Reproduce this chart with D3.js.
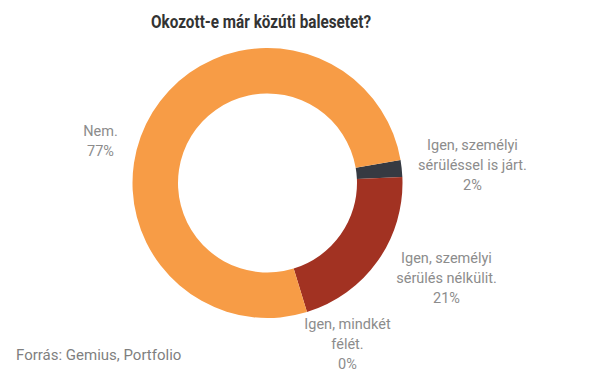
<!DOCTYPE html>
<html>
<head>
<meta charset="utf-8">
<script src="https://cdn.jsdelivr.net/npm/d3@7"></script>
<style>
  body { margin: 0; background: #fff; }
  svg { display: block; font-family: Roboto, "Noto Sans", sans-serif; }
</style>
</head>
<body>
<script>
// data, in the order the slices run clockwise
let categories = ['Igen, személyi sérüléssel is járt.', 'Igen, személyi sérülés nélkülit.', 'Igen, mindkét félét.', 'Nem.'];
let values = [2, 21, 0, 77];
let labelLines = [
  ['Igen, személyi', 'sérüléssel is járt.', '2%'],
  ['Igen, személyi', 'sérülés nélkülit.', '21%'],
  ['Igen, mindkét', 'félét.', '0%'],
  ['Nem.', '77%']
];
let colors = ['#363a42', '#a23222', '#a23222', '#f79c46'];

// label anchor offsets from the centre (x centre of block, first baseline)
let labelPos = [[205, -33], [179, 80], [80, 146], [-167, -47]];

let width = 605, height = 378;
let cx = 267.5, cy = 183, rOuter = 135, rInner = 89.5;

let svg = d3.select('body')
      .append('svg')
      .attr('width', width)
      .attr('height', height);

svg.append('text')
  .attr('x', 261)
  .attr('y', 28)
  .attr('text-anchor', 'middle')
  .attr('textLength', 220)
  .attr('lengthAdjust', 'spacingAndGlyphs')
  .style('font-size', '18px')
  .style('font-weight', 'bold')
  .style('fill', '#333')
  .text('Okozott-e már közúti balesetet?');

let pie = d3.pie()
      .sort(null)
      .value(d => d)
      .startAngle(80.2 * Math.PI / 180)
      .endAngle(80.2 * Math.PI / 180 + 2 * Math.PI);

let arc = d3.arc()
      .innerRadius(rInner)
      .outerRadius(rOuter);

let g = svg.append('g').attr('transform', `translate(${cx},${cy})`);

g.selectAll('path')
  .data(pie(values))
  .enter()
  .append('path')
  .attr('d', arc)
  .style('fill', (d, i) => colors[i]);

let labels = g.selectAll('text.lbl')
  .data(labelLines)
  .enter()
  .append('text')
  .classed('lbl', true)
  .attr('text-anchor', 'middle')
  .style('font-size', '14.5px')
  .style('fill', '#8c8c8c');

labels.each(function(lines, i) {
  d3.select(this).selectAll('tspan')
    .data(lines)
    .enter()
    .append('tspan')
    .attr('x', labelPos[i][0])
    .attr('y', (l, j) => labelPos[i][1] + j * 20)
    .text(l => l);
});

svg.append('text')
  .attr('x', 16)
  .attr('y', 360)
  .style('font-size', '15px')
  .style('fill', '#7f7f7f')
  .text('Forrás: Gemius, Portfolio');
</script>
</body>
</html>
